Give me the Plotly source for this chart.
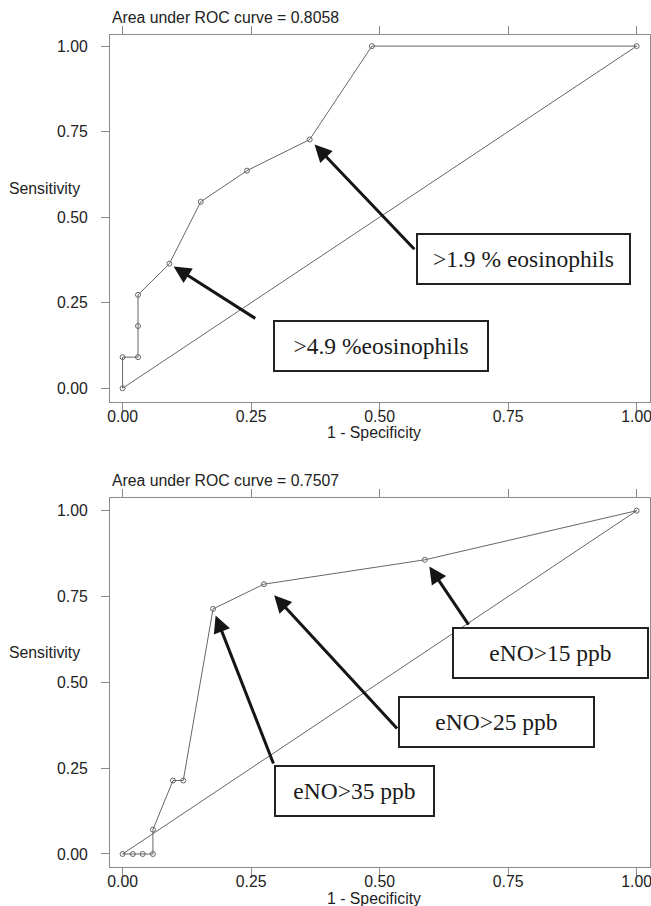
import plotly.graph_objects as go

# ROC curve: % eosinophils in induced sputum
eos_fpr = [0.0, 0.0, 0.030, 0.030, 0.030, 0.091, 0.152, 0.242, 0.364, 0.485, 1.0]
eos_tpr = [0.0, 0.091, 0.091, 0.182, 0.273, 0.364, 0.545, 0.636, 0.727, 1.0, 1.0]
eos_auc = 0.8058

# ROC curve: exhaled nitric oxide (eNO)
eno_fpr = [0.0, 0.020, 0.039, 0.059, 0.059, 0.098, 0.118, 0.176, 0.275, 0.588, 1.0]
eno_tpr = [0.0, 0.0, 0.0, 0.0, 0.071, 0.214, 0.214, 0.714, 0.786, 0.857, 1.0]
eno_auc = 0.7507

# chance diagonal
ref_line = [0.0, 1.0]

tick_vals = [0.0, 0.25, 0.50, 0.75, 1.00]
tick_text = ["0.00", "0.25", "0.50", "0.75", "1.00"]

# cut-off call-outs: label, index of the ROC point, arrow tail, box centre
eos_callouts = [
    (">1.9 % eosinophils", 8, (0.5705, 0.402), (0.779, 0.379), 211, 7),
    (">4.9 %eosinophils", 5, (0.261, 0.2015), (0.5024, 0.125), 212, 5),
]
eno_callouts = [
    ("eNO>15 ppb", 9, (0.675, 0.664), (0.8324, 0.5855), 193, 8),
    ("eNO>25 ppb", 8, (0.5367, 0.3612), (0.7282, 0.3845), 193, 15),
    ("eNO>35 ppb", 7, (0.2946, 0.2592), (0.4511, 0.1835), 157, 7),
]

SANS = "Liberation Sans, Arial, sans-serif"
SERIF = "Liberation Serif, Times New Roman, serif"
FRAME = "#8a8a8a"
INK = "#222222"
CURVE = "#555555"
FS = 15.8

fig = go.Figure()

panels = [
    ("x", "y", eos_fpr, eos_tpr, eos_auc, eos_callouts),
    ("x2", "y2", eno_fpr, eno_tpr, eno_auc, eno_callouts),
]

annotations = []
for xa, ya, fpr, tpr, auc, callouts in panels:
    fig.add_trace(go.Scatter(
        x=ref_line, y=ref_line, mode="lines", xaxis=xa, yaxis=ya,
        line=dict(color=CURVE, width=0.9), hoverinfo="skip", showlegend=False))
    fig.add_trace(go.Scatter(
        x=fpr, y=tpr, mode="lines+markers", xaxis=xa, yaxis=ya,
        line=dict(color=CURVE, width=0.9),
        marker=dict(symbol="circle-open", size=5, color="#666666",
                    line=dict(width=1, color="#666666")),
        showlegend=False))

    xdom = ("x domain" if xa == "x" else "x2 domain")
    ydom = ("y domain" if ya == "y" else "y2 domain")

    annotations.append(dict(
        text=f"Area under ROC curve = {auc:.4f}", xref=xdom, yref=ydom,
        x=0, y=1, xanchor="left", yanchor="middle", yshift=18, showarrow=False,
        font=dict(family=SANS, size=FS, color=INK)))
    annotations.append(dict(
        text="1 - Specificity", xref=xdom, yref=ydom,
        x=0.489, y=0, xanchor="center", yanchor="middle", yshift=-31,
        borderpad=0, showarrow=False, font=dict(family=SANS, size=FS, color=INK)))
    annotations.append(dict(
        text="Sensitivity", xref="paper", yref=ydom,
        x=(7 - 110) / 540, y=0.582, xanchor="left", yanchor="middle",
        showarrow=False, font=dict(family=SANS, size=FS, color=INK)))

    for label, idx, tail, box, box_w, stand in callouts:
        annotations.append(dict(
            x=fpr[idx], y=tpr[idx], xref=xa, yref=ya,
            ax=tail[0], ay=tail[1], axref=xa, ayref=ya,
            text="", showarrow=True, arrowhead=2, arrowsize=1.15,
            arrowwidth=3, arrowcolor="#151515", standoff=stand))
        annotations.append(dict(
            x=box[0], y=box[1], xref=xa, yref=ya, text=label,
            showarrow=False, xanchor="center", yanchor="middle",
            width=box_w, height=48, borderpad=0, borderwidth=2,
            bordercolor="#222222", bgcolor="white", align="center",
            font=dict(family=SERIF, size=23.5, color="#1a1a1a")))

axis_common = dict(
    tickvals=tick_vals, ticktext=tick_text, ticks="outside", ticklen=8,
    tickwidth=1, tickcolor=FRAME, showline=True, linecolor=FRAME,
    linewidth=1, mirror="ticks", showgrid=False, zeroline=False,
    ticklabeloverflow="allow",
    tickfont=dict(family=SANS, size=FS, color=INK), fixedrange=True)

fig.update_layout(
    width=651, height=906,
    margin=dict(l=110, r=1, t=35, b=39, autoexpand=False),
    paper_bgcolor="white", plot_bgcolor="white",
    xaxis=dict(axis_common, domain=[0, 1], range=[-0.0245, 1.026], anchor="y",
               ticklabelstandoff=-8),
    yaxis=dict(axis_common, domain=[0.5593, 1], range=[-0.0391, 1.0324],
               anchor="x", ticklabelstandoff=10),
    xaxis2=dict(axis_common, domain=[0, 1], range=[-0.0245, 1.026], anchor="y2",
                ticklabelstandoff=-8),
    yaxis2=dict(axis_common, domain=[0, 0.4435], range=[-0.0379, 1.037],
                anchor="x2", ticklabelstandoff=10),
    annotations=annotations,
    showlegend=False,
)

fig.write_html("out.html")
